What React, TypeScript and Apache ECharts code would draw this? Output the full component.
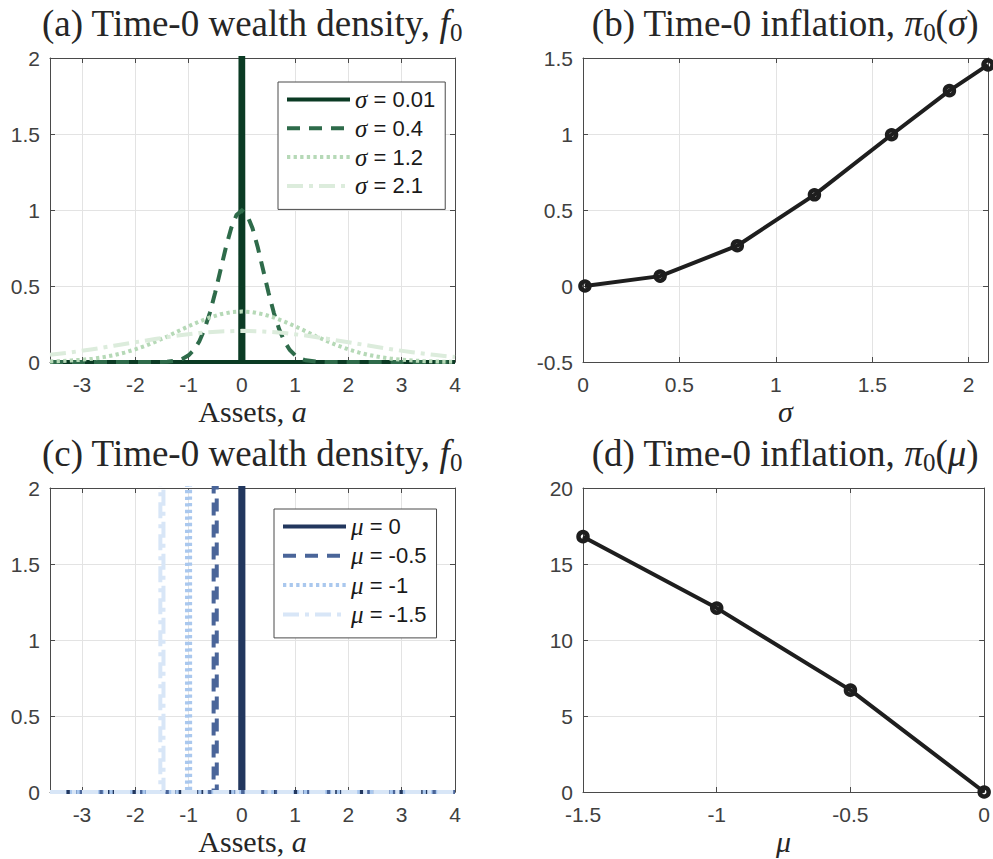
import React, { useEffect, useRef } from "react";
import * as echarts from "echarts";

const SERIF = "'Liberation Serif', 'Times New Roman', serif";
const SANS = "'Liberation Sans', Arial, Helvetica, sans-serif";
const INK = "#262626";

// ---------- Panel (a): wealth density by sigma ----------
const sigmaNames = ["σ = 0.01", "σ = 0.4", "σ = 1.2", "σ = 2.1"];
const sigmaColors = ["#0b3b24", "#2e6b4a", "#b6d9b7", "#dcecdc"];

const xSig001 = [-3.6, -0.03, 0, 0.03, 4];
const ySig001 = [0, 0, 13.3, 0, 0];

const xSig04 = [-3.6, -1.6, -1.4, -1.2, -1.1, -1.0, -0.9, -0.8, -0.7, -0.6, -0.5, -0.4, -0.3, -0.2, -0.1, 0,
  0.1, 0.2, 0.3, 0.4, 0.5, 0.6, 0.7, 0.8, 0.9, 1.0, 1.1, 1.2, 1.4, 1.6, 4];
const ySig04 = [0, 0, 0.002, 0.011, 0.023, 0.044, 0.079, 0.135, 0.216, 0.324, 0.457, 0.605, 0.753, 0.88, 0.967, 0.997,
  0.967, 0.88, 0.753, 0.605, 0.457, 0.324, 0.216, 0.135, 0.079, 0.044, 0.023, 0.011, 0.002, 0, 0];

const xSig12 = [-3.6, -3.4, -3.2, -3.0, -2.8, -2.6, -2.4, -2.2, -2.0, -1.8, -1.6, -1.4, -1.2, -1.0, -0.8, -0.6, -0.4, -0.2, 0,
  0.2, 0.4, 0.6, 0.8, 1.0, 1.2, 1.4, 1.6, 1.8, 2.0, 2.2, 2.4, 2.6, 2.8, 3.0, 3.2, 3.4, 3.6, 3.8, 4.0];
const ySig12 = [0.004, 0.006, 0.01, 0.015, 0.022, 0.032, 0.045, 0.062, 0.083, 0.108, 0.137, 0.168, 0.202, 0.235, 0.266, 0.293, 0.314, 0.328, 0.332,
  0.328, 0.314, 0.293, 0.266, 0.235, 0.202, 0.168, 0.137, 0.108, 0.083, 0.062, 0.045, 0.032, 0.022, 0.015, 0.01, 0.006, 0.004, 0.002, 0.001];

const xSig21 = [-3.6, -3.2, -2.8, -2.4, -2.0, -1.6, -1.2, -0.8, -0.4, 0, 0.4, 0.8, 1.2, 1.6, 2.0, 2.4, 2.8, 3.2, 3.6, 4.0];
const ySig21 = [0.047, 0.064, 0.084, 0.107, 0.13, 0.153, 0.174, 0.191, 0.201, 0.205, 0.201, 0.191, 0.174, 0.153, 0.13, 0.107, 0.084, 0.064, 0.047, 0.033];

// ---------- Panel (b): inflation vs sigma ----------
const sigmaGrid = [0.01, 0.4, 0.8, 1.2, 1.6, 1.9, 2.1];
const piSigma = [0, 0.065, 0.265, 0.6, 0.995, 1.285, 1.455];

// ---------- Panel (c): wealth density by mu ----------
const muNames = ["μ = 0", "μ = -0.5", "μ = -1", "μ = -1.5"];
const muColors = ["#22375e", "#4a6599", "#aac8ee", "#d8e6f7"];
const xMu0 = [-3.6, -0.03, 0, 0.03, 4];
const xMu05 = [-3.6, -0.53, -0.5, -0.47, 4];
const xMu1 = [-3.6, -1.03, -1.0, -0.97, 4];
const xMu15 = [-3.6, -1.53, -1.5, -1.47, 4];
const yMuSpike = [0, 0, 50, 0, 0];

// ---------- Panel (d): inflation vs mu ----------
const muGrid = [-1.5, -1, -0.5, 0];
const piMu = [16.8, 12.1, 6.7, 0];

const lineTypes: any[] = ["solid", [13, 9], [3.3, 3.3], [16, 6, 4, 6]];

const GRIDS = [
  { left: 50, top: 58, width: 405, height: 304 },
  { left: 583, top: 58, width: 405, height: 304 },
  { left: 50, top: 488, width: 405, height: 304 },
  { left: 583, top: 488, width: 405, height: 304 },
];

function pairs(xs: number[], ys: number[]) {
  return xs.map((x, i) => [x, ys[i]]);
}

function axisPair(gi: number, xcfg: any, ycfg: any, xName: any) {
  const common = {
    axisLine: { show: true, onZero: false, lineStyle: { color: "#4a4a4a", width: 1 } },
    axisTick: { show: true, inside: true, length: 5, lineStyle: { color: "#4a4a4a" } },
  };
  const xMain = {
    type: "value", gridIndex: gi, position: "bottom", ...xcfg, ...common,
    axisLabel: { show: true, color: "#404040", fontSize: 21, fontFamily: SANS, margin: 12, showMinLabel: xcfg.showMinLabel, showMaxLabel: xcfg.showMaxLabel },
    splitLine: { show: true, lineStyle: { color: "#e3e3e3", width: 1 } },
    name: xName.text, nameLocation: "middle", nameGap: 34,
    nameTextStyle: { fontFamily: SERIF, fontSize: 30, color: INK, fontStyle: xName.italic ? "italic" : "normal",
      rich: { i: { fontFamily: SERIF, fontSize: 30, fontStyle: "italic", color: INK } } },
  };
  const xTop = {
    type: "value", gridIndex: gi, position: "top", ...xcfg, ...common,
    axisLabel: { show: false }, splitLine: { show: false },
  };
  const yMain = {
    type: "value", gridIndex: gi, position: "left", ...ycfg, ...common,
    axisLabel: { show: true, color: "#404040", fontSize: 21, fontFamily: SANS, margin: 10 },
    splitLine: { show: true, lineStyle: { color: "#e3e3e3", width: 1 } },
  };
  const yRight = {
    type: "value", gridIndex: gi, position: "right", ...ycfg, ...common,
    axisLabel: { show: false }, splitLine: { show: false },
  };
  return { x: [xMain, xTop], y: [yMain, yRight] };
}

function densitySeries(name: string, xs: number[], ys: number[], color: string, type: any, axis: number) {
  return {
    type: "line", name, data: pairs(xs, ys), xAxisIndex: axis, yAxisIndex: axis,
    symbol: "none", showSymbol: false, clip: true, silent: true,
    lineStyle: { color, width: 4, type, join: "miter" }, itemStyle: { color },
  };
}

function markerSeries(name: string, xs: number[], ys: number[], axis: number) {
  return {
    type: "line", name, data: pairs(xs, ys), xAxisIndex: axis, yAxisIndex: axis,
    symbol: "circle", symbolSize: 9, showSymbol: true, clip: false, silent: true,
    lineStyle: { color: "#1e1e1e", width: 4 },
    itemStyle: { color: "rgba(255,255,255,0)", borderColor: "#1e1e1e", borderWidth: 4.5 },
  };
}

function titleOf(text: string, cx: number, top: number) {
  return {
    text, left: cx, top, textAlign: "center", padding: 0,
    textStyle: {
      fontFamily: SERIF, fontSize: 37, fontWeight: "normal", color: INK, lineHeight: 44,
      rich: {
        i: { fontFamily: SERIF, fontSize: 37, fontStyle: "italic", color: INK, lineHeight: 44 },
        s: { fontFamily: SERIF, fontSize: 25, color: INK, lineHeight: 22, verticalAlign: "bottom" },
      },
    },
  };
}

function legendOf(names: string[], left: number, top: number, gap: number, sym: string) {
  return {
    data: names, orient: "vertical", left, top, padding: [5, 10, 11, 7],
    itemWidth: 63, itemHeight: 20, itemGap: gap, selectedMode: false,
    backgroundColor: "#ffffff", borderColor: "#4a4a4a", borderWidth: 1, borderRadius: 0,
    itemStyle: { opacity: 0 },
    lineStyle: { width: 4 },
    formatter: (n: string) => n.replace(sym, "{g|" + sym + "}"),
    textStyle: {
      fontFamily: SANS, fontSize: 22, color: "#1a1a1a", lineHeight: 20,
      rich: { g: { fontFamily: SERIF, fontStyle: "italic", fontSize: 25, color: "#1a1a1a", lineHeight: 20 } },
    },
  };
}

export default function App() {
  const ref = useRef<HTMLDivElement>(null);
  useEffect(() => {
    if (!ref.current) return;
    const chart = echarts.init(ref.current, undefined, { renderer: "svg" });

    const a = axisPair(0,
      { min: -3.6, max: 4, minInterval: 1, maxInterval: 1, showMinLabel: false },
      { min: 0, max: 2, interval: 0.5 },
      { text: "Assets, {i|a}", italic: false });
    const b = axisPair(1,
      { min: 0, max: 2.1, interval: 0.5, showMaxLabel: false },
      { min: -0.5, max: 1.5, interval: 0.5 },
      { text: "σ", italic: true });
    const c = axisPair(2,
      { min: -3.6, max: 4, minInterval: 1, maxInterval: 1, showMinLabel: false },
      { min: 0, max: 2, interval: 0.5 },
      { text: "Assets, {i|a}", italic: false });
    const d = axisPair(3,
      { min: -1.5, max: 0, interval: 0.5 },
      { min: 0, max: 20, interval: 5 },
      { text: "μ", italic: true });

    const sigX = [xSig001, xSig04, xSig12, xSig21];
    const sigY = [ySig001, ySig04, ySig12, ySig21];
    const muX = [xMu0, xMu05, xMu1, xMu15];

    const series: any[] = [];
    sigmaNames.forEach((n, i) => series.push(densitySeries(n, sigX[i], sigY[i], sigmaColors[i], lineTypes[i], 0)));
    series.push(markerSeries("pi_sigma", sigmaGrid, piSigma, 2));
    muNames.forEach((n, i) => series.push(densitySeries(n, muX[i], yMuSpike, muColors[i], lineTypes[i], 4)));
    series.push(markerSeries("pi_mu", muGrid, piMu, 6));

    chart.setOption({
      animation: false,
      backgroundColor: "#ffffff",
      grid: GRIDS.map((g) => ({ ...g, containLabel: false })),
      xAxis: [...a.x, ...b.x, ...c.x, ...d.x],
      yAxis: [...a.y, ...b.y, ...c.y, ...d.y],
      title: [
        titleOf("(a) Time-0 wealth density, {i|f}{s|0}", 252, 1),
        titleOf("(b) Time-0 inflation, {i|π}{s|0}({i|σ})", 785, 1),
        titleOf("(c) Time-0 wealth density, {i|f}{s|0}", 252, 431),
        titleOf("(d) Time-0 inflation, {i|π}{s|0}({i|μ})", 785, 431),
      ],
      legend: [
        legendOf(sigmaNames, 278, 82, 3.8, "σ"),
        legendOf(muNames, 274, 509, 4.3, "μ"),
      ],
      series,
    });
    return () => chart.dispose();
  }, []);
  return (
    <div
      ref={ref}
      style={{ position: "fixed", left: 0, top: 0, width: 993, height: 859, background: "#fff" }}
    />
  );
}
